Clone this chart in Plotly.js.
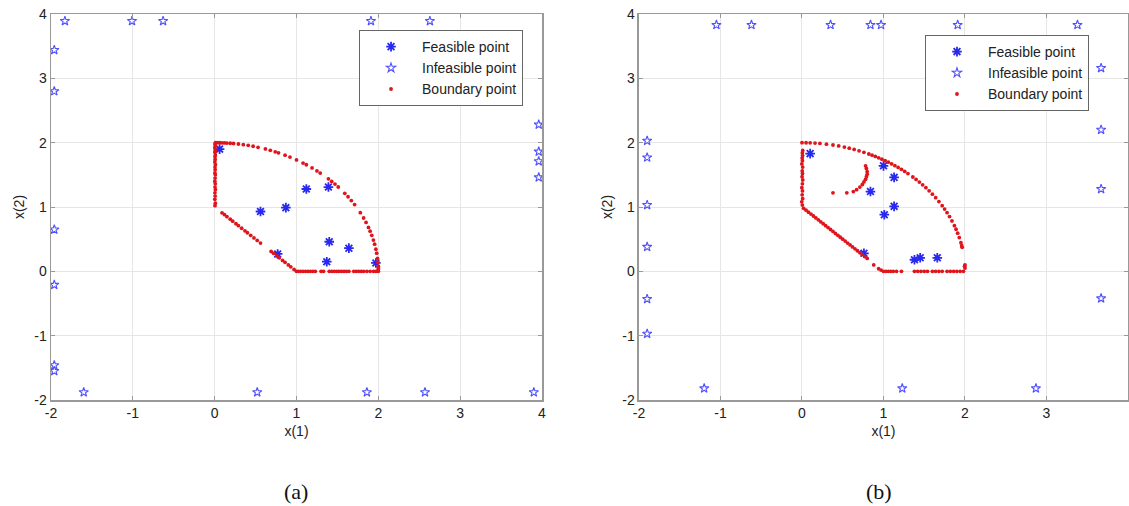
<!DOCTYPE html>
<html>
<head>
<meta charset="utf-8">
<script src="https://cdn.plot.ly/plotly-3.0.1.min.js"></script>
<style>html,body{margin:0;padding:0;background:#fff;}#chart{width:1129px;height:506px;}</style>
</head>
<body>
<div id="chart"></div>
<script>
// ---------- Panel (a) ----------
const aFeasX = [0.06, 1.12, 1.39, 0.56, 0.87, 1.40, 1.64, 1.37, 1.97, 0.77];
const aFeasY = [1.90, 1.28, 1.31, 0.93, 0.99, 0.46, 0.36, 0.15, 0.13, 0.27];

const aInfX = [-1.83, -1.01, -0.63, 1.91, 2.63,
               -1.96, -1.96, -1.96, -1.96, -1.96, -1.96,
               -1.60, 0.52, 1.86, 2.57, 3.90,
               3.96, 3.96, 3.96, 3.96];
const aInfY = [3.89, 3.89, 3.89, 3.89, 3.89,
               3.44, 2.80, 0.65, -0.21, -1.46, -1.55,
               -1.88, -1.88, -1.88, -1.88, -1.88,
               2.28, 1.86, 1.71, 1.46];

// boundary: vertical edge, arc, diagonal, bottom edge
const aBndX = [
  0.004, 0.008, 0.002, 0.006, 0.003, 0.009, 0.004, 0.007, 0.002, 0.005, 0.008, 0.003, 0.006, 0.004, 0.009, 0.002, 0.006, 0.004, 0.008, 0.003, 0.006, 0.002, 0.007, 0.004, 0.01,
  0.03, 0.06, 0.09, 0.12, 0.15, 0.19, 0.23, 0.29, 0.35, 0.41, 0.47, 0.53, 0.62, 0.68, 0.74, 0.78, 0.86, 0.92, 1.00, 1.08, 1.12, 1.19, 1.25, 1.29, 1.39, 1.43, 1.47, 1.51, 1.59, 1.63, 1.67, 1.71, 1.78, 1.82, 1.85, 1.88, 1.90, 1.92, 1.94, 1.955, 1.97, 1.98, 1.99, 1.995, 2.00,
  0.09, 0.12, 0.15, 0.19, 0.22, 0.26, 0.29, 0.33, 0.37, 0.40, 0.44, 0.48, 0.52, 0.56, 0.69, 0.72, 0.76, 0.79, 0.83, 0.86, 0.90, 0.93, 0.97, 1.00,
  1.02, 1.05, 1.08, 1.11, 1.14, 1.17, 1.20, 1.23, 1.30, 1.33, 1.40, 1.43, 1.46, 1.49, 1.52, 1.55, 1.58, 1.61, 1.64, 1.70, 1.73, 1.76, 1.79, 1.82, 1.86, 1.90, 1.94, 1.97, 2.00, 2.00, 2.00
];
const aBndY = [
  1.02, 1.06, 1.12, 1.17, 1.22, 1.27, 1.31, 1.36, 1.40, 1.45, 1.50, 1.53, 1.58, 1.62, 1.66, 1.70, 1.74, 1.78, 1.81, 1.85, 1.88, 1.92, 1.95, 1.98, 2.00,
  2.000, 1.999, 1.998, 1.996, 1.994, 1.991, 1.987, 1.979, 1.969, 1.958, 1.944, 1.928, 1.902, 1.881, 1.858, 1.842, 1.806, 1.776, 1.732, 1.683, 1.657, 1.607, 1.561, 1.528, 1.438, 1.398, 1.356, 1.311, 1.213, 1.159, 1.100, 1.037, 0.912, 0.829, 0.760, 0.682, 0.624, 0.560, 0.486, 0.422, 0.345, 0.282, 0.200, 0.141, 0.080,
  0.91, 0.88, 0.85, 0.81, 0.78, 0.74, 0.71, 0.67, 0.63, 0.60, 0.56, 0.52, 0.48, 0.44, 0.31, 0.28, 0.24, 0.21, 0.17, 0.14, 0.10, 0.07, 0.03, 0.00,
  0.00, 0.00, 0.00, 0.00, 0.00, 0.00, 0.00, 0.00, 0.00, 0.00, 0.00, 0.00, 0.00, 0.00, 0.00, 0.00, 0.00, 0.00, 0.00, 0.00, 0.00, 0.00, 0.00, 0.00, 0.00, 0.00, 0.00, 0.00, 0.00, 0.03, 0.05
];

// ---------- Panel (b) ----------
const bFeasX = [0.10, 1.00, 1.13, 0.84, 1.13, 1.01, 0.76, 1.38, 1.45, 1.66];
const bFeasY = [1.83, 1.64, 1.46, 1.24, 1.01, 0.88, 0.28, 0.18, 0.21, 0.21];

const bInfX = [-1.05, -0.62, 0.35, 0.84, 0.97, 1.91, 3.38,
               -1.90, -1.90, -1.90, -1.90, -1.90, -1.90,
               -1.20, 1.23, 2.87,
               3.67, 3.67, 3.67, 3.67];
const bInfY = [3.83, 3.83, 3.83, 3.83, 3.83, 3.83, 3.83,
               2.03, 1.77, 1.03, 0.38, -0.43, -0.97,
               -1.82, -1.82, -1.82,
               3.16, 2.20, 1.28, -0.42];

const bBndX = [
  0.004, -0.003, 0.008, 0.002, 0.006, -0.002, 0.005, 0.009, 0.001, 0.006, 0.003, 0.008, -0.002, 0.005, 0.002, 0.007, 0.004, 0.009,
  0.00, 0.05, 0.10, 0.16, 0.22, 0.30, 0.38, 0.45, 0.52, 0.58, 0.64, 0.70, 0.76, 0.82, 0.86, 0.90, 0.94, 0.98, 1.02, 1.06, 1.10, 1.14, 1.18, 1.22, 1.26, 1.30, 1.36, 1.40, 1.44, 1.48, 1.52, 1.56, 1.60, 1.64, 1.68, 1.72, 1.75, 1.78, 1.81, 1.84, 1.87, 1.89, 1.91, 1.93, 1.95, 1.96, 1.965,
  0.02, 0.05, 0.08, 0.11, 0.14, 0.17, 0.20, 0.23, 0.26, 0.29, 0.32, 0.35, 0.38, 0.41, 0.44, 0.47, 0.50, 0.53, 0.56, 0.59, 0.62, 0.65, 0.68, 0.71, 0.74, 0.77, 0.80, 0.88, 0.94, 0.97,
  1.00, 1.03, 1.06, 1.09, 1.12, 1.16, 1.22, 1.38, 1.42, 1.46, 1.50, 1.54, 1.60, 1.64, 1.68, 1.72, 1.78, 1.82, 1.86, 1.90, 1.94, 1.98, 2.00, 2.00, 1.995,
  0.38, 0.55, 0.63, 0.67, 0.71, 0.74, 0.76, 0.78, 0.79, 0.80, 0.80, 0.79, 0.78
];
const bBndY = [
  1.03, 1.08, 1.13, 1.19, 1.25, 1.30, 1.36, 1.42, 1.47, 1.52, 1.56, 1.62, 1.67, 1.72, 1.76, 1.80, 1.84, 1.88,
  2.000, 1.999, 1.997, 1.994, 1.988, 1.977, 1.964, 1.949, 1.931, 1.914, 1.895, 1.873, 1.850, 1.824, 1.806, 1.786, 1.765, 1.743, 1.720, 1.696, 1.670, 1.643, 1.615, 1.585, 1.553, 1.520, 1.466, 1.428, 1.388, 1.345, 1.300, 1.252, 1.200, 1.145, 1.085, 1.021, 0.968, 0.912, 0.851, 0.784, 0.709, 0.654, 0.593, 0.524, 0.444, 0.398, 0.373,
  0.98, 0.95, 0.92, 0.89, 0.86, 0.83, 0.80, 0.77, 0.74, 0.71, 0.68, 0.65, 0.62, 0.59, 0.56, 0.53, 0.50, 0.47, 0.44, 0.41, 0.38, 0.35, 0.32, 0.29, 0.26, 0.23, 0.20, 0.10, 0.04, 0.02,
  0.00, 0.00, 0.00, 0.00, 0.00, 0.00, 0.00, 0.00, 0.00, 0.00, 0.00, 0.00, 0.00, 0.00, 0.00, 0.00, 0.00, 0.00, 0.00, 0.00, 0.00, 0.00, 0.05, 0.10, 0.08,
  1.22, 1.22, 1.24, 1.27, 1.31, 1.35, 1.39, 1.43, 1.47, 1.51, 1.55, 1.60, 1.64
];

const legendNames = ['Feasible point', 'Infeasible point', 'Boundary point'];
const tickVals = [-2, -1, 0, 1, 2, 3, 4];
const captions = ['(a)', '(b)'];

const blueFeas = '#2828f0';
const blueInf = '#5050ff';
const red = '#e0141c';
const sans = 'Arial, "Liberation Sans", Helvetica, sans-serif';

function panelTraces(fx, fy, ix, iy, bx, by, xa, ya, leg) {
  return [
    {x: fx, y: fy, xaxis: xa, yaxis: ya, legend: leg, name: legendNames[0], type: 'scatter', mode: 'markers',
     marker: {symbol: 'asterisk-open', size: 8, color: blueFeas, line: {color: blueFeas, width: 1.8}}},
    {x: ix, y: iy, xaxis: xa, yaxis: ya, legend: leg, name: legendNames[1], type: 'scatter', mode: 'markers',
     marker: {symbol: 'star-open', size: 7, color: blueInf, line: {color: blueInf, width: 1.1}}},
    {x: bx, y: by, xaxis: xa, yaxis: ya, legend: leg, name: legendNames[2], type: 'scatter', mode: 'markers',
     marker: {symbol: 'circle', size: 3.8, color: red, line: {width: 0}}}
  ];
}

const data = [].concat(
  panelTraces(aFeasX, aFeasY, aInfX, aInfY, aBndX, aBndY, 'x', 'y', 'legend'),
  panelTraces(bFeasX, bFeasY, bInfX, bInfY, bBndX, bBndY, 'x2', 'y2', 'legend2')
);

const tickFont = {family: sans, size: 14, color: '#222'};
function xAxis(dom, anchor) {
  return {domain: dom, anchor: anchor, range: [-2, 4], tickvals: tickVals, ticktext: tickVals.map(String),
    showgrid: true, gridcolor: '#e6e6e6', gridwidth: 1, zeroline: false,
    showline: true, linecolor: '#999', linewidth: 1.5, mirror: 'ticks', ticks: 'inside', ticklen: 4, tickcolor: '#999',
    tickfont: tickFont, title: {text: 'x(1)', font: {family: sans, size: 14, color: '#222'}, standoff: 6}};
}
function yAxis(anchor) {
  return {domain: [0, 1], anchor: anchor, range: [-2, 4], tickvals: tickVals, ticktext: tickVals.map(String),
    showgrid: true, gridcolor: '#e6e6e6', gridwidth: 1, zeroline: false,
    showline: true, linecolor: '#999', linewidth: 1.5, mirror: 'ticks', ticks: 'inside', ticklen: 4, tickcolor: '#999',
    tickfont: tickFont, title: {text: 'x(2)', font: {family: sans, size: 14, color: '#222'}, standoff: 6}};
}
function legendBox(x, y) {
  return {x: x, y: y, xanchor: 'left', yanchor: 'top', bgcolor: '#fff', bordercolor: '#666', borderwidth: 1,
    font: {family: sans, size: 14, color: '#222'}, itemwidth: 52, tracegroupgap: 0, itemsizing: 'trace'};
}

const layout = {
  width: 1129, height: 506,
  margin: {l: 51, r: 1, t: 14, b: 106},
  paper_bgcolor: '#fff', plot_bgcolor: '#fff',
  showlegend: true,
  xaxis: xAxis([0, 0.4559], 'y'),
  yaxis: yAxis('x'),
  xaxis2: xAxis([0.54596, 1], 'y2'),
  yaxis2: yAxis('x2'),
  legend: legendBox(0.286, 0.9585),
  legend2: legendBox(0.8115, 0.9456),
  annotations: [
    {text: captions[0], xref: 'paper', yref: 'paper', x: 0.2279, y: -0.238, xanchor: 'center', yanchor: 'middle', showarrow: false,
     font: {family: '"Liberation Serif", "DejaVu Serif", serif', size: 22, color: '#111'}},
    {text: captions[1], xref: 'paper', yref: 'paper', x: 0.7688, y: -0.238, xanchor: 'center', yanchor: 'middle', showarrow: false,
     font: {family: '"Liberation Serif", "DejaVu Serif", serif', size: 22, color: '#111'}}
  ]
};

Plotly.newPlot('chart', data, layout, {displayModeBar: false, staticPlot: true});
</script>
</body>
</html>
